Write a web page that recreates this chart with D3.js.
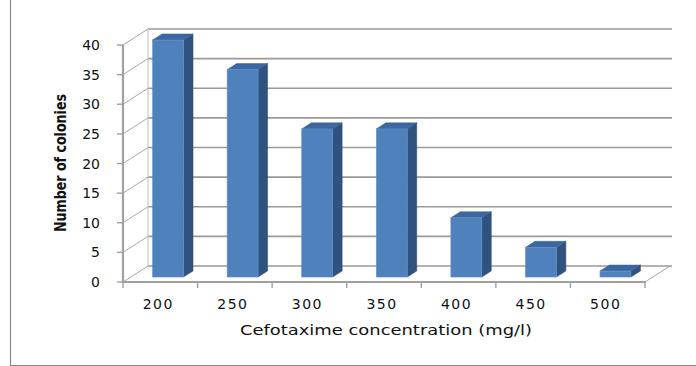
<!DOCTYPE html>
<html>
<head>
<meta charset="utf-8">
<script src="https://cdn.jsdelivr.net/npm/d3@7"></script>
<style>
  html, body { margin: 0; padding: 0; background: #fff; }
  svg { display: block; }
</style>
</head>
<body>
<svg id="chart" width="696" height="366"></svg>
<script>
// Colony counts per cefotaxime concentration
const concentrations = ["200", "250", "300", "350", "400", "450", "500"];
const colonies = [40, 35, 25, 25, 10, 5, 1];
const yTicks = [0, 5, 10, 15, 20, 25, 30, 35, 40];

const svg = d3.select("#chart");

// Front plane of the 3D box
const x = d3.scaleBand().domain(concentrations).range([123, 645]).padding(0);
const y = d3.scaleLinear().domain([0, 40]).range([282, 45]);

// Depth offset of the back wall
const DX = 25, DY = -16;
const P = (px, py, f) => [px + f * DX, py + f * DY];

const gridColor = "#9a9a9a";

// Outer frame (left and bottom edges)
svg.append("path")
  .attr("d", "M10.5,0 V365.5 H696")
  .attr("fill", "none").attr("stroke", "#8a8a8a").attr("stroke-width", 1.2);

// Back wall gridlines
const back = svg.append("g");
yTicks.forEach(t => {
  const [x0, y0] = P(x.range()[0], y(t), 1);
  const [x1] = P(x.range()[1], y(t), 1);
  back.append("line")
    .attr("x1", x0).attr("x2", x1 + 2).attr("y1", y0).attr("y2", y0)
    .attr("stroke", gridColor).attr("stroke-width", 1.6);
});
// back wall left edge
{
  const [bx, by0] = P(x.range()[0], y(0), 1);
  const [, by1] = P(x.range()[0], y(40), 1);
  back.append("line").attr("x1", bx).attr("x2", bx).attr("y1", by0).attr("y2", by1)
    .attr("stroke", "#c8c8c8").attr("stroke-width", 1.2);
}

// Side wall diagonals
yTicks.forEach(t => {
  const [x0, y0] = P(x.range()[0], y(t), 0);
  const [x1, y1] = P(x.range()[0], y(t), 1);
  back.append("line")
    .attr("x1", x0).attr("y1", y0).attr("x2", x1).attr("y2", y1)
    .attr("stroke", "#a8a8a8").attr("stroke-width", 1);
});

// Floor right diagonal
{
  const [x0, y0] = P(x.range()[1], y(0), 0);
  const [x1, y1] = P(x.range()[1], y(0), 1);
  back.append("line").attr("x1", x0).attr("y1", y0).attr("x2", x1).attr("y2", y1)
    .attr("stroke", "#a8a8a8").attr("stroke-width", 1);
}

// Bars as 3D blocks set at mid-depth
const F0 = 0.31, F1 = 0.69;
const barW = x.bandwidth() * 0.415;
const bars = svg.append("g");
concentrations.forEach((c, i) => {
  const cx = x(c) + x.bandwidth() / 2;
  const [fl, fb] = P(cx - barW / 2, y(0), F0);
  const [, ft] = P(cx - barW / 2, y(colonies[i]), F0);
  const fr = fl + barW;
  const ddx = (F1 - F0) * DX, ddy = (F1 - F0) * DY;
  // side face
  bars.append("path")
    .attr("d", `M${fr},${ft} L${fr + ddx},${ft + ddy} L${fr + ddx},${fb + ddy} L${fr},${fb} Z`)
    .attr("fill", "#30527f").attr("stroke", "#2a4a74").attr("stroke-width", 0.5);
  // top face
  bars.append("path")
    .attr("d", `M${fl},${ft} L${fl + ddx},${ft + ddy} L${fr + ddx},${ft + ddy} L${fr},${ft} Z`)
    .attr("fill", "#3c67a0").attr("stroke", "#36609a").attr("stroke-width", 0.5);
  // front face
  bars.append("rect")
    .attr("x", fl).attr("y", ft).attr("width", barW).attr("height", fb - ft)
    .attr("fill", "#4f81bd").attr("stroke", "#6a95c8").attr("stroke-width", 0.6);
});

// Front axes
const axes = svg.append("g");
axes.append("line")
  .attr("x1", x.range()[0]).attr("x2", x.range()[0]).attr("y1", y(40)).attr("y2", y(0) + 1)
  .attr("stroke", "#a0a0a0").attr("stroke-width", 2.2);
axes.append("line")
  .attr("x1", x.range()[0]).attr("x2", x.range()[1] + 1).attr("y1", y(0)).attr("y2", y(0))
  .attr("stroke", "#a0a0a0").attr("stroke-width", 2.2);
yTicks.forEach(t => {
  axes.append("line")
    .attr("x1", x.range()[0] - 6).attr("x2", x.range()[0]).attr("y1", y(t)).attr("y2", y(t))
    .attr("stroke", "#a0a0a0").attr("stroke-width", 1.4);
});
const xBounds = concentrations.map(c => x(c)).concat([x.range()[1]]);
xBounds.forEach(b => {
  axes.append("line")
    .attr("x1", b).attr("x2", b).attr("y1", y(0)).attr("y2", y(0) + 6)
    .attr("stroke", "#a0a0a0").attr("stroke-width", 1.4);
});

// Tick labels
const labelFont = "'DejaVu Sans', Verdana, sans-serif";
svg.append("g").selectAll("text").data(yTicks).join("text")
  .attr("x", 100).attr("y", d => y(d) + 5)
  .attr("text-anchor", "end")
  .attr("font-family", labelFont).attr("font-size", 14)
  .attr("fill", "#111")
  .text(d => d);

svg.append("g").selectAll("text").data(concentrations).join("text")
  .attr("x", d => x(d) + x.bandwidth() / 2 - 2).attr("y", 309)
  .attr("text-anchor", "middle")
  .attr("font-family", labelFont).attr("font-size", 14)
  .attr("letter-spacing", 1.5)
  .attr("fill", "#111")
  .text(d => d);

// Axis titles
svg.append("text")
  .attr("x", 240).attr("y", 335)
  .attr("font-family", labelFont).attr("font-size", 14)
  .attr("textLength", 292).attr("lengthAdjust", "spacingAndGlyphs")
  .attr("fill", "#111")
  .text("Cefotaxime concentration (mg/l)");

svg.append("text")
  .attr("transform", "translate(66,163) rotate(-90)")
  .attr("text-anchor", "middle")
  .attr("font-family", "'Liberation Sans Narrow', 'DejaVu Sans Condensed', 'Liberation Sans', sans-serif")
  .attr("font-weight", "bold").attr("font-size", 15.5)
  .attr("textLength", 138).attr("lengthAdjust", "spacingAndGlyphs")
  .attr("fill", "#111")
  .text("Number of colonies");
</script>
</body>
</html>
